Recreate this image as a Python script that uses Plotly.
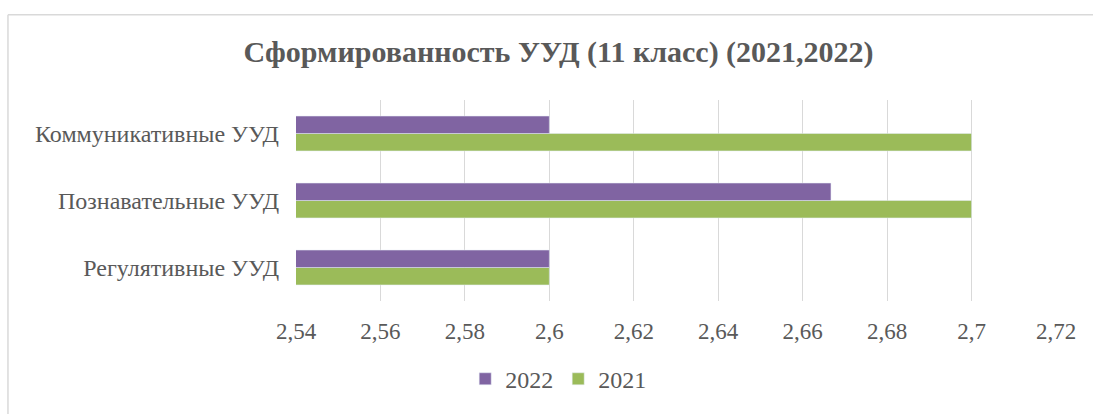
import plotly.graph_objects as go

categories = ["Регулятивные УУД", "Познавательные УУД", "Коммуникативные УУД"]
values_2021 = [2.6, 2.7, 2.7]
values_2022 = [2.6, 2.6667, 2.6]
tick_vals = [2.54, 2.56, 2.58, 2.6, 2.62, 2.64, 2.66, 2.68, 2.7, 2.72]
tick_text = ["2,54", "2,56", "2,58", "2,6", "2,62", "2,64", "2,66", "2,68", "2,7", "2,72"]

FONT = "Liberation Serif, Times New Roman, serif"
TEXT = "#595959"

fig = go.Figure()
fig.add_trace(go.Bar(y=categories, x=values_2021, orientation="h", name="2021",
                     marker=dict(color="#9BBB59")))
fig.add_trace(go.Bar(y=categories, x=values_2022, orientation="h", name="2022",
                     marker=dict(color="#8064A2")))

fig.update_layout(
    width=1093, height=414,
    margin=dict(l=296, r=37, t=100, b=111),
    paper_bgcolor="white", plot_bgcolor="white",
    font=dict(family=FONT, size=24, color=TEXT),
    barmode="group", bargap=0.48, bargroupgap=0,
    title=dict(text="<b>Сформированность УУД (11 класс) (2021,2022)</b>",
               x=0.511, xanchor="center", y=0.875, yanchor="middle",
               font=dict(family=FONT, size=30, color=TEXT)),
    legend=dict(orientation="h", x=0.345, xanchor="center", y=-0.389, yanchor="middle",
                traceorder="reversed", font=dict(size=24, color=TEXT),
                itemwidth=30),
    showlegend=True,
)
fig.update_xaxes(range=[2.54, 2.72], tickvals=tick_vals, ticktext=tick_text,
                 tickfont=dict(size=23),
                 showgrid=True, gridcolor="#D9D9D9", gridwidth=1, zeroline=False,
                 showline=False, ticks="", ticklabelstandoff=14)
fig.update_yaxes(range=[-0.5, 2.5], showgrid=False, zeroline=False, showline=False,
                 ticks="", ticklabelstandoff=16)

# chart frame: only the left and top edges are inside the window
fig.add_shape(type="line", xref="paper", yref="paper",
              x0=-0.379, x1=-0.379, y0=-0.8, y1=1.424,
              line=dict(color="#D9D9D9", width=1.5))
fig.add_shape(type="line", xref="paper", yref="paper",
              x0=-0.379, x1=1.2, y0=1.424, y1=1.424,
              line=dict(color="#D9D9D9", width=1.5))

fig.write_html("out.html", config={"displayModeBar": False},
               post_script="document.body.style.margin='0';document.body.style.overflow='hidden';")
